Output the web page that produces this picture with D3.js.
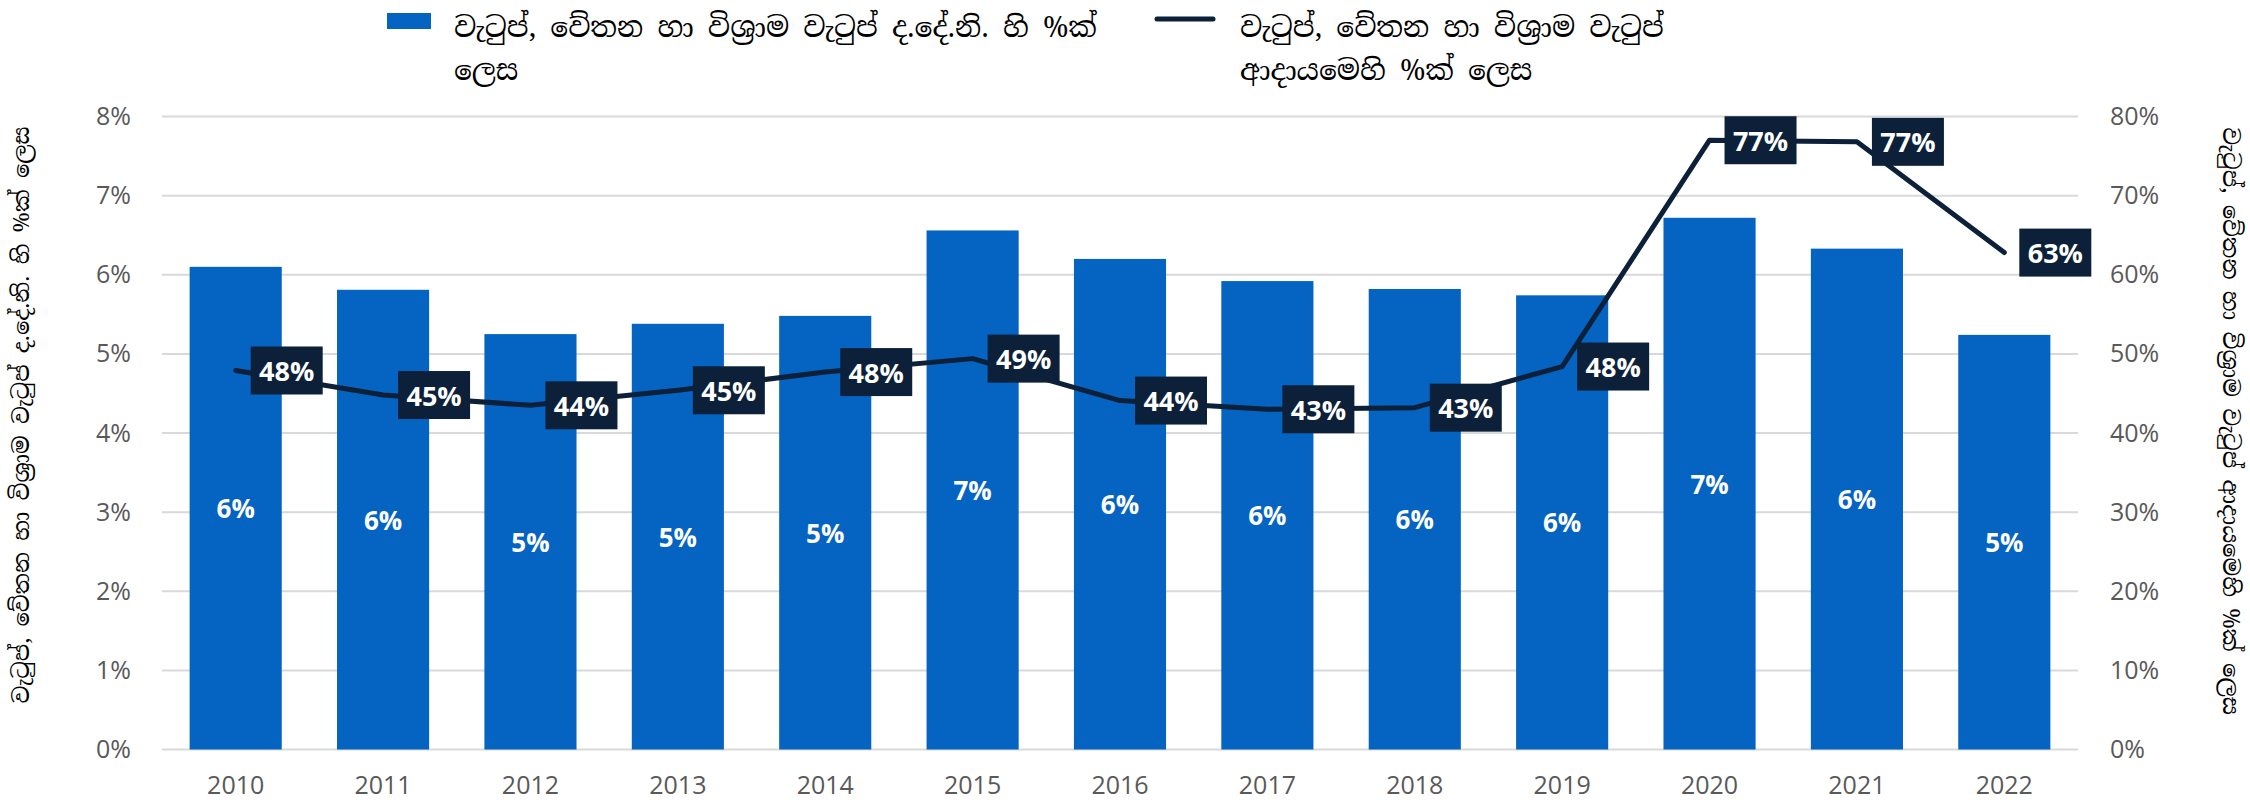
<!DOCTYPE html>
<html>
<head>
<meta charset="utf-8">
<script src="https://cdn.jsdelivr.net/npm/d3@7"></script>
<style>
  html, body { margin: 0; padding: 0; background: #ffffff; }
  svg { display: block; }
  .si { font-family: "Iskoola Pota", "Noto Serif Sinhala", "Noto Sans Sinhala", "Lohit Sinhala", "LKLUG", sans-serif; }
</style>
</head>
<body>
<div id="chart"></div>
<script>
// ---------- data ----------
const years = ["2010","2011","2012","2013","2014","2015","2016","2017","2018","2019","2020","2021","2022"];
const gdpShare = [6.10, 5.81, 5.25, 5.38, 5.48, 6.56, 6.20, 5.92, 5.82, 5.74, 6.72, 6.33, 5.24];      // % of GDP (bars, left axis)
const revenueShare = [47.9, 44.8, 43.5, 45.4, 47.7, 49.4, 44.1, 43.0, 43.2, 48.4, 77.0, 76.8, 62.8]; // % of revenue (line, right axis)
const leftTicks = [0, 1, 2, 3, 4, 5, 6, 7, 8];
const rightTicks = [0, 10, 20, 30, 40, 50, 60, 70, 80];
const barLegend = ["වැටුප්, වේතන හා විශ්‍රාම වැටුප් ද.දේ.නි. හි %ක්", "ලෙස"];
const lineLegend = ["වැටුප්, වේතන හා විශ්‍රාම වැටුප්", "ආදායමෙහි %ක් ලෙස"];
const leftTitle = "වැටුප්, වේතන හා විශ්‍රාම වැටුප් ද.දේ.නි. හි %ක් ලෙස";
const rightTitle = "වැටුප්, වේතන හා විශ්‍රාම වැටුප් ආදායමෙහි %ක් ලෙස";

// ---------- setup ----------
const W = 2250, H = 808;
const barColor = "#0563C1", lineColor = "#0C2139", gridColor = "#D9D9D9", tickColor = "#595959";
const svg = d3.select("#chart").append("svg").attr("width", W).attr("height", H);

const x = d3.scaleBand().domain(years).range([162, 2078]).paddingInner(0.375).paddingOuter(0.1875);
const yL = d3.scaleLinear().domain([0, 8]).range([749.5, 116.5]);
const yR = d3.scaleLinear().domain([0, 80]).range([749.5, 116.5]);

// fit a Sinhala text element to a target width by adjusting font size
function fit(sel, target, base) {
  sel.each(function () {
    const len = this.getComputedTextLength();
    if (len > 0) d3.select(this).attr("font-size", (base * target / len).toFixed(2));
  });
}

// gridlines
svg.append("g").selectAll("line").data(leftTicks).join("line")
  .attr("x1", 162).attr("x2", 2078)
  .attr("y1", d => yL(d)).attr("y2", d => yL(d))
  .attr("stroke", gridColor).attr("stroke-width", 2);

// left axis
const axL = d3.axisLeft(yL).tickValues(leftTicks).tickFormat(d => d + "%").tickSize(0).tickPadding(0);
const gL = svg.append("g").attr("transform", "translate(131,0)").call(axL);
gL.select(".domain").remove();
gL.selectAll("text").attr("font-family", "'Open Sans', sans-serif").attr("font-size", 25).attr("fill", tickColor);

// right axis
const axR = d3.axisRight(yR).tickValues(rightTicks).tickFormat(d => d + "%").tickSize(0).tickPadding(0);
const gR = svg.append("g").attr("transform", "translate(2110,0)").call(axR);
gR.select(".domain").remove();
gR.selectAll("text").attr("font-family", "'Open Sans', sans-serif").attr("font-size", 25).attr("fill", tickColor);

// bottom axis
const axB = d3.axisBottom(x).tickSize(0).tickPadding(0);
const gB = svg.append("g").attr("transform", "translate(0,776)").call(axB);
gB.select(".domain").remove();
gB.selectAll("text").attr("font-family", "'Open Sans', sans-serif").attr("font-size", 25).attr("fill", tickColor);

// bars
svg.append("g").selectAll("rect").data(years).join("rect")
  .attr("x", d => x(d)).attr("width", x.bandwidth())
  .attr("y", (d, i) => yL(gdpShare[i]))
  .attr("height", (d, i) => yL(0) - yL(gdpShare[i]))
  .attr("fill", barColor);

// bar labels
svg.append("g").selectAll("text").data(years).join("text")
  .attr("x", d => x(d) + x.bandwidth() / 2)
  .attr("y", (d, i) => (yL(gdpShare[i]) + yL(0)) / 2)
  .attr("text-anchor", "middle").attr("dominant-baseline", "central")
  .attr("font-family", "'Open Sans', sans-serif").attr("font-weight", 700).attr("font-size", 26)
  .attr("fill", "#ffffff")
  .text((d, i) => Math.round(gdpShare[i]) + "%");

// line
const cx = d => x(d) + x.bandwidth() / 2;
const line = d3.line().x((d, i) => cx(years[i])).y(d => yR(d));
svg.append("path").datum(revenueShare)
  .attr("d", line).attr("fill", "none")
  .attr("stroke", lineColor).attr("stroke-width", 5)
  .attr("stroke-linejoin", "round").attr("stroke-linecap", "round");

// line labels
const lab = svg.append("g").selectAll("g").data(years).join("g")
  .attr("transform", (d, i) => `translate(${cx(d) + 15},${yR(revenueShare[i])})`);
lab.append("rect").attr("x", 0).attr("y", -24).attr("width", 72).attr("height", 48).attr("fill", lineColor);
lab.append("text").attr("x", 36).attr("y", 0)
  .attr("text-anchor", "middle").attr("dominant-baseline", "central")
  .attr("font-family", "'Open Sans', sans-serif").attr("font-weight", 700).attr("font-size", 27)
  .attr("fill", "#ffffff")
  .text((d, i) => Math.round(revenueShare[i]) + "%");

// axis titles
const tL = svg.append("text").attr("class", "si")
  .attr("transform", "translate(21,415) rotate(-90)")
  .attr("text-anchor", "middle").attr("dominant-baseline", "central")
  .attr("font-size", 24).attr("fill", "#000")
  .text(leftTitle);
fit(tL, 577, 24);
const tR = svg.append("text").attr("class", "si")
  .attr("transform", "translate(2231,421) rotate(90)")
  .attr("text-anchor", "middle").attr("dominant-baseline", "central")
  .attr("font-size", 24).attr("fill", "#000")
  .text(rightTitle);
fit(tR, 588, 24);

// legend
svg.append("rect").attr("x", 387).attr("y", 13).attr("width", 44).attr("height", 16).attr("fill", barColor);
const lg1 = svg.append("g").selectAll("text").data(barLegend).join("text").attr("class", "si")
  .attr("x", 454).attr("y", (d, i) => 27 + i * 43)
  .attr("dominant-baseline", "central").attr("font-size", 30).attr("fill", "#000")
  .text(d => d);
// size both legends from the width of the first legend's first line
let legSize = 30;
{
  const len = lg1.nodes()[0].getComputedTextLength();
  if (len > 0) legSize = 30 * 643 / len;
}
lg1.attr("font-size", legSize.toFixed(2));
svg.append("line").attr("x1", 1157).attr("x2", 1213).attr("y1", 19).attr("y2", 19)
  .attr("stroke", lineColor).attr("stroke-width", 5).attr("stroke-linecap", "round");
svg.append("g").selectAll("text").data(lineLegend).join("text").attr("class", "si")
  .attr("x", 1240).attr("y", (d, i) => 27 + i * 43)
  .attr("dominant-baseline", "central").attr("font-size", legSize.toFixed(2)).attr("fill", "#000")
  .text(d => d);
</script>
</body>
</html>
